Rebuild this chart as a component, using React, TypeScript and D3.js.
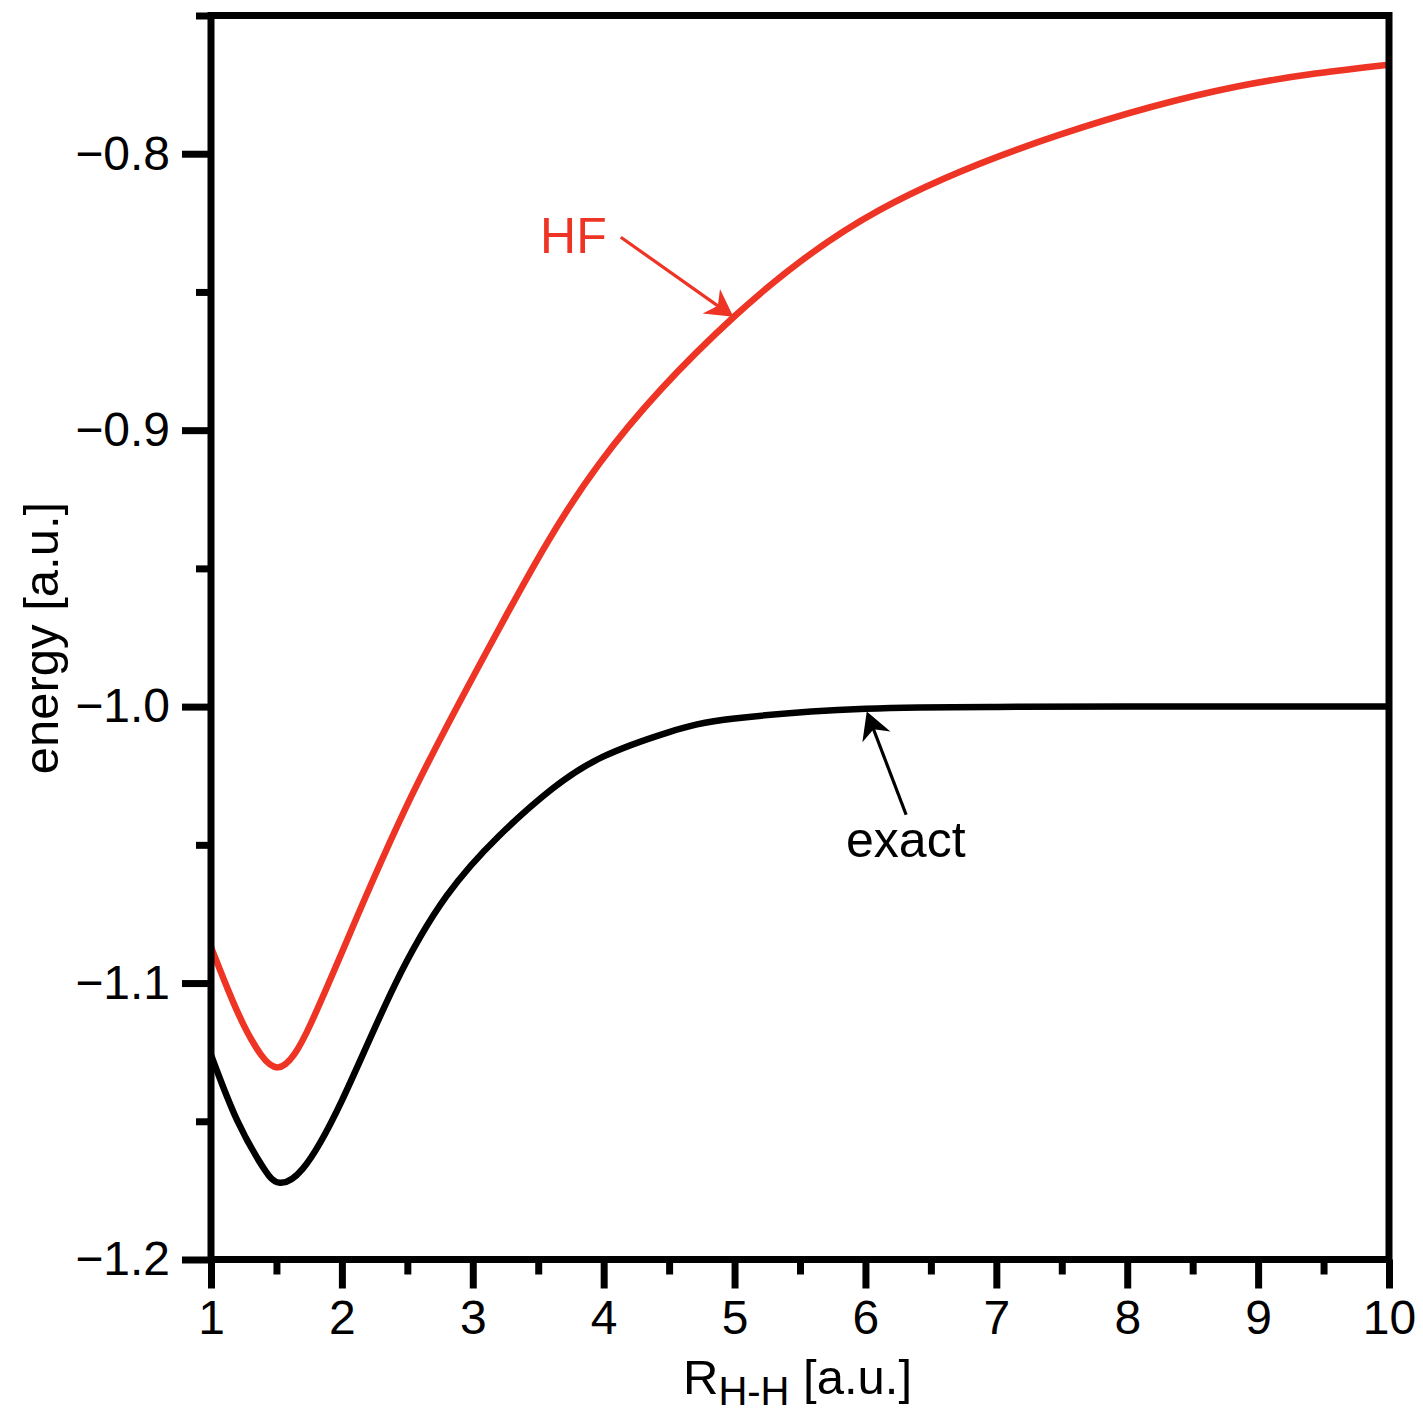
import React, { useEffect, useRef } from 'react';
import * as d3 from 'd3';

// H2 dissociation curves
const R_HF = [1, 1.13, 1.25, 1.38, 1.51, 1.64, 1.77, 2.02, 2.53, 3.21, 3.97, 5.0, 6.11, 7.48, 8.84, 10];
const E_HF = [-1.087, -1.1024, -1.1152, -1.1258, -1.1305, -1.1255, -1.1139, -1.0867, -1.0325, -0.971, -0.9119, -0.8588, -0.8203, -0.7932, -0.7757, -0.7678];

const R_EXACT = [1, 1.2, 1.4, 1.52, 1.7, 2.0, 2.4, 2.8, 3.2, 3.6, 4.0, 4.5, 5, 6, 7, 8, 10];
const E_EXACT = [-1.126, -1.1497, -1.1668, -1.1722, -1.1672, -1.1425, -1.1011, -1.0685, -1.0468, -1.03, -1.018, -1.0092, -1.0043, -1.0008, -1.0001, -1.0, -1.0];

const X_TICKS = [1, 2, 3, 4, 5, 6, 7, 8, 9, 10];
const X_MINOR = [1.5, 2.5, 3.5, 4.5, 5.5, 6.5, 7.5, 8.5, 9.5];
const Y_TICKS = [-1.2, -1.1, -1.0, -0.9, -0.8];
const Y_MINOR = [-1.15, -1.05, -0.95, -0.85, -0.75];

const RED = '#ee3424';
const FONT = '"Liberation Sans", Arial, Helvetica, sans-serif';

const x = d3.scaleLinear().domain([1, 10]).range([211, 1389]);
const y = d3.scaleLinear().domain([-1.2, -0.75]).range([1259.5, 15.5]);

const line = d3
  .line<[number, number]>()
  .x(d => x(d[0]))
  .y(d => y(d[1]))
  .curve(d3.curveNatural);

// arrow from tail to tip, both in data units
const Arrow = ({ from, to, color }: { from: [number, number]; to: [number, number]; color: string }) => {
  const x0 = x(from[0]), y0 = y(from[1]), x1 = x(to[0]), y1 = y(to[1]);
  const a = Math.atan2(y1 - y0, x1 - x0);
  const len = Math.hypot(x1 - x0, y1 - y0);
  return (
    <g transform={`translate(${x1},${y1}) rotate(${(a * 180) / Math.PI})`}>
      <line x1={-len} y1={0} x2={-16} y2={0} stroke={color} strokeWidth={3.2} />
      <path d="M0,0 L-27,-15 L-19,0 L-27,15 Z" fill={color} />
    </g>
  );
};

export default function App() {
  const xRef = useRef<SVGGElement>(null);
  const yRef = useRef<SVGGElement>(null);

  useEffect(() => {
    const gx = d3.select(xRef.current);
    gx.selectAll('*').remove();
    gx.append('g').call(
      d3.axisBottom(x).tickValues(X_TICKS).tickSize(29).tickPadding(11).tickFormat(d3.format('d'))
    );
    gx.append('g').call(d3.axisBottom(x).tickValues(X_MINOR).tickSize(15).tickFormat(() => ''));

    const gy = d3.select(yRef.current);
    gy.selectAll('*').remove();
    gy.append('g').call(
      d3.axisLeft(y).tickValues(Y_TICKS).tickSize(29).tickPadding(12).tickFormat(d3.format('.1f'))
    );
    gy.append('g').call(d3.axisLeft(y).tickValues(Y_MINOR).tickSize(15).tickFormat(() => ''));

    [gx, gy].forEach(g => {
      g.selectAll('.domain').remove();
      g.selectAll('g').attr('font-size', null).attr('font-family', null);
      g.selectAll('line').attr('stroke', '#000').attr('stroke-width', 7);
      g.selectAll('text').attr('fill', '#000').attr('font-size', 48).attr('font-family', FONT);
    });
  }, []);

  const hf = R_HF.map((r, i) => [r, E_HF[i]] as [number, number]);
  const exact = R_EXACT.map((r, i) => [r, E_EXACT[i]] as [number, number]);

  return (
    <svg width={1423} height={1413} style={{ position: 'absolute', left: 0, top: 0, background: '#fff' }}>
      <path d={line(hf) || ''} fill="none" stroke={RED} strokeWidth={6.5} />
      <path d={line(exact) || ''} fill="none" stroke="#000" strokeWidth={6.5} />

      <rect x={211} y={15.5} width={1178} height={1244} fill="none" stroke="#000" strokeWidth={7} />
      <g ref={xRef} transform="translate(0,1259.5)" />
      <g ref={yRef} transform="translate(211,0)" />

      <text x={x(3.514)} y={y(-0.8359)} fill={RED} fontSize={50} fontFamily={FONT}>HF</text>
      <Arrow from={[4.131, -0.8302]} to={[4.991, -0.859]} color={RED} />

      <text x={x(5.852)} y={y(-1.0544)} fill="#000" fontSize={50} fontFamily={FONT}>exact</text>
      <Arrow from={[6.311, -1.0391]} to={[6.01, -1.0018]} color="#000" />

      <text transform="translate(58,638) rotate(-90)" textAnchor="middle" fontSize={49} fontFamily={FONT}>
        energy [a.u.]
      </text>
      <text x={683} y={1394} fontSize={49} fontFamily={FONT}>
        R<tspan fontSize={40} dy={11}>H-H</tspan>
        <tspan dy={-11}> [a.u.]</tspan>
      </text>
    </svg>
  );
}
